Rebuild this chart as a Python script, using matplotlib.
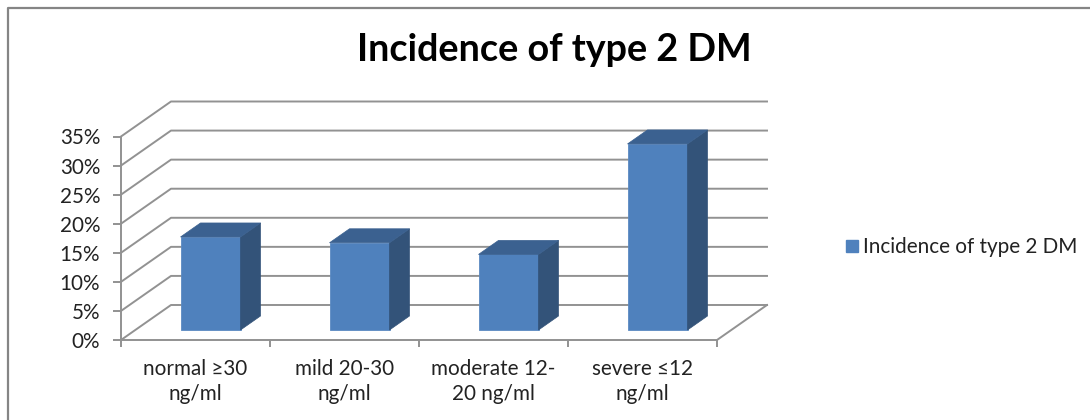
import matplotlib.pyplot as plt
from matplotlib.lines import Line2D
from matplotlib.patches import Polygon, Rectangle

plt.rcParams["font.family"] = ["Lato", "DejaVu Sans"]

categories = ["normal ≥30\nng/ml", "mild 20-30\nng/ml", "moderate 12-\n20 ng/ml", "severe ≤12\nng/ml"]
incidence = [16, 15, 13, 32]
y_ticks = [0, 5, 10, 15, 20, 25, 30, 35]
series_name = "Incidence of type 2 DM"

W, H = 1090, 420
GRID = "#929292"
FRONT = "#4f81bd"
SIDE = "#335379"
TOP = "#3b6190"
TEXT = "#222222"

fig = plt.figure(figsize=(W / 100, H / 100), dpi=100)

# frame: only left and top edges show, the rest is cropped off
fig.add_artist(Line2D([7.5 / W, 7.5 / W, 1], [0, 1 - 8 / H, 1 - 8 / H], transform=fig.transFigure,
                      color="#858585", lw=1.6))

ax = fig.add_axes([121 / W, 1 - 340 / H, 596 / W, 203.5 / H])
ax.set_xlim(-0.5, 3.5)
ax.set_ylim(0, 35)
ax.patch.set_visible(False)
for s in ["top", "right", "bottom"]:
    ax.spines[s].set_visible(False)
ax.spines["left"].set_color(GRID)
ax.spines["left"].set_linewidth(1.4)

# oblique offsets of the fake 3d box, in data units
wall_dx, wall_dy = 50 / 149, 35 / 5.814
bar_dx, bar_dy = 20 / 149, 14 / 5.814
gap_dx, gap_dy = 15 / 149, 10 / 5.814
bar_w = 60 / 149

# walls and floor
x0, x1 = -0.5, 3.5
for v in y_ticks:
    ax.plot([x0, x0 + wall_dx, x1 + wall_dx], [v, v + wall_dy, v + wall_dy],
            color=GRID, lw=1.4, clip_on=False, zorder=1)
ax.plot([x0, x1, x1 + wall_dx], [0, 0, wall_dy], color=GRID, lw=1.4, clip_on=False, zorder=1)

# bars
for i, v in enumerate(incidence):
    left = i - bar_w / 2 + gap_dx
    right = left + bar_w
    base = gap_dy
    top = base + v
    ax.add_patch(Rectangle((left, base), bar_w, v, fc=FRONT, ec="#5b8ac2", lw=0.6,
                           clip_on=False, zorder=3))
    ax.add_patch(Polygon([(right, base), (right + bar_dx, base + bar_dy),
                          (right + bar_dx, top + bar_dy), (right, top)],
                         fc=SIDE, ec=SIDE, lw=0.5, clip_on=False, zorder=3))
    ax.add_patch(Polygon([(left, top), (left + bar_dx, top + bar_dy),
                          (right + bar_dx, top + bar_dy), (right, top)],
                         fc=TOP, ec=TOP, lw=0.5, clip_on=False, zorder=3))

ax.set_yticks(y_ticks)
ax.set_yticklabels([f"{v}%" for v in y_ticks])
ax.set_xticks([-0.5, 0.5, 1.5, 2.5, 3.5])
ax.set_xticklabels([])
ax.set_xticks(range(4), labels=categories, minor=True)
ax.tick_params(axis="y", length=6, width=1.4, color=GRID, labelsize=14.9, labelcolor=TEXT, pad=9)
ax.tick_params(axis="x", which="major", length=5, width=1.4, color=GRID)
ax.tick_params(axis="x", which="minor", length=0, labelsize=14.9, labelcolor=TEXT, pad=14)
for label in ax.get_xticklabels(minor=True):
    label.set_linespacing(1.3)

fig.text(554 / W, 1 - 50 / H, series_name, ha="center", va="center",
         fontsize=27.2, fontweight="bold", color="black")

handle = Line2D([], [], ls="none", marker="s", ms=8.6, mfc=FRONT, mec=FRONT)
fig.legend([handle], [series_name], loc="center left", bbox_to_anchor=(846 / W, 1 - 247 / H),
           frameon=False, fontsize=14.9, labelcolor=TEXT, handlelength=0.6, handletextpad=0.2,
           borderpad=0, borderaxespad=0)

fig.savefig("out.png", dpi=100)
